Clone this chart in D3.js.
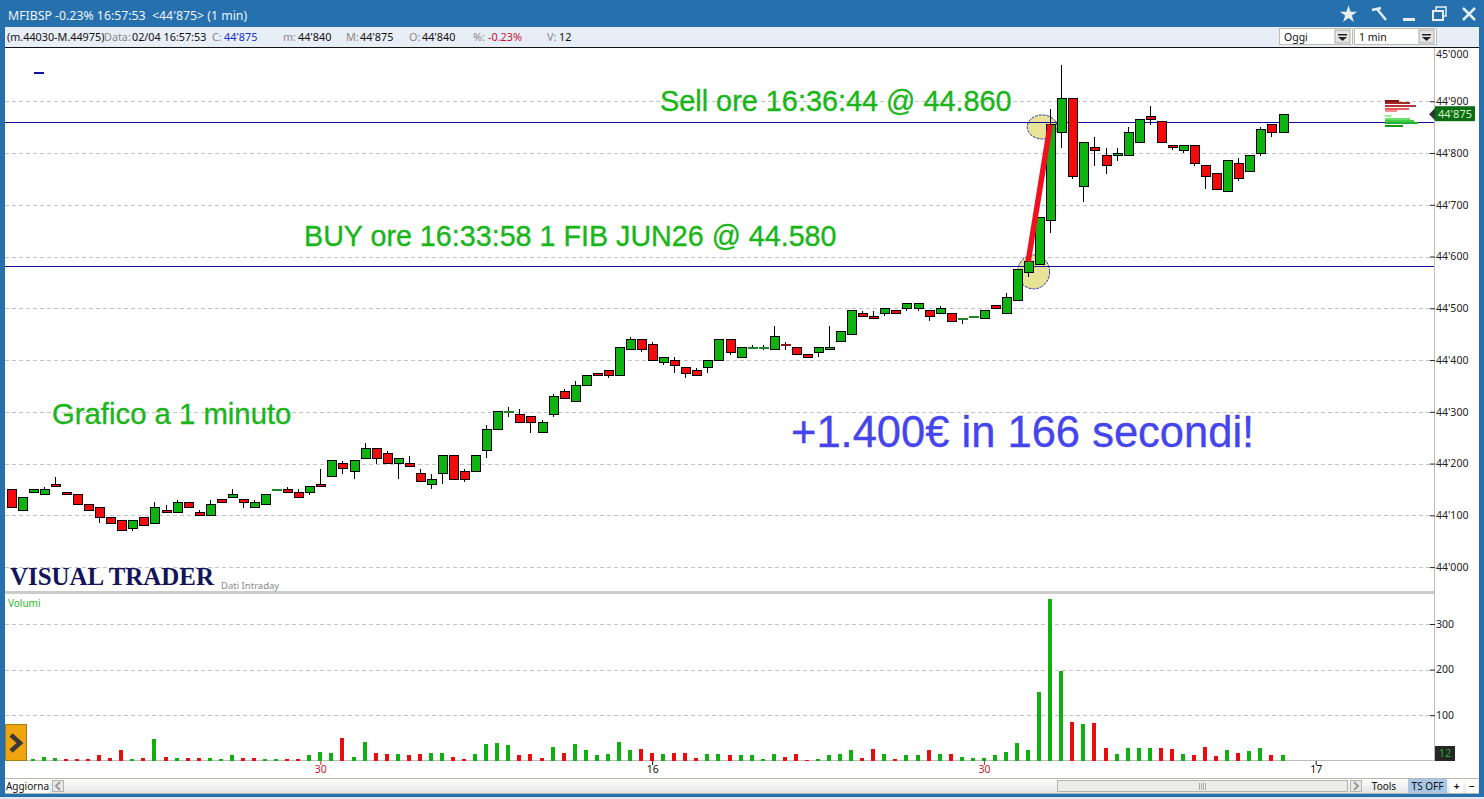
<!DOCTYPE html>
<html>
<head>
    <meta charset="utf-8">
    <title>MFIBSP 1 min</title>
    <script src="https://d3js.org/d3.v7.min.js"></script>
    <style>
        html, body { margin: 0; padding: 0; background: #fff; overflow: hidden; }
        svg { display: block; }
        text { font-family: "Noto Sans", sans-serif; }
        .note { font-family: "Liberation Sans", sans-serif; stroke-width: .35; }
        .axis path { display: none; }
        .axis text { font-family: "Noto Sans", sans-serif; font-size: 10.5px; fill: #222; }
        .grid path { display: none; }
        .grid text { display: none; }
        .grid line { stroke: #c4c4c4; stroke-dasharray: 4,3; }
    </style>
</head>
<body>
<script>

    // candles, one value per minute bar
    var opens = [44150,44110,44145,44140,44160,44145,44140,44120,44115,44095,
        44090,44075,44095,44085,44110,44105,44125,44105,44100,44130,
        44135,44130,44115,44120,44150,44150,44145,44145,44160,44175,
        44200,44185,44210,44230,44220,44200,44200,44180,44160,44180,
        44215,44185,44185,44225,44265,44300,44295,44290,44260,44295,
        44340,44320,44350,44375,44380,44370,44420,44440,44430,44395,
        44400,44385,44380,44385,44400,44440,44405,44425,44425,44420,
        44431,44425,44410,44415,44420,44435,44450,44490,44485,44490,
        44495,44500,44500,44495,44490,44490,44480,44485,44480,44505,
        44490,44515,44570,44585,44670,44840,44905,44735,44810,44795,
        44795,44795,44820,44870,44860,44815,44805,44815,44775,44760,
        44725,44780,44765,44800,44855,44840];
    var highs = [44150,44135,44150,44155,44175,44145,44140,44120,44115,44095,
        44090,44090,44095,44125,44120,44130,44125,44110,44130,44130,
        44150,44130,44130,44140,44150,44155,44150,44155,44190,44205,
        44205,44205,44240,44230,44225,44210,44215,44190,44180,44215,
        44215,44190,44215,44275,44300,44310,44305,44290,44285,44335,
        44345,44360,44370,44375,44380,44425,44445,44440,44435,44405,
        44405,44385,44385,44400,44440,44440,44425,44430,44430,44465,
        44435,44425,44410,44425,44465,44455,44495,44495,44495,44500,
        44495,44510,44510,44495,44505,44490,44480,44485,44495,44505,
        44530,44575,44590,44675,44885,44970,44905,44820,44830,44810,
        44810,44850,44865,44890,44860,44815,44815,44815,44775,44760,
        44785,44790,44795,44850,44855,44875];
    var lows = [44115,44110,44145,44140,44155,44140,44120,44110,44085,44085,
        44070,44070,44080,44085,44105,44105,44115,44100,44100,44125,
        44135,44115,44115,44120,44150,44145,44135,44140,44155,44175,
        44180,44170,44210,44200,44200,44170,44195,44165,44150,44160,
        44170,44165,44185,44210,44265,44290,44280,44260,44260,44290,
        44325,44320,44350,44370,44365,44370,44420,44415,44400,44390,
        44375,44365,44370,44375,44400,44410,44405,44425,44420,44420,
        44420,44410,44405,44405,44420,44435,44450,44485,44480,44485,
        44490,44495,44495,44475,44490,44475,44470,44485,44480,44500,
        44490,44515,44560,44585,44645,44810,44750,44705,44775,44760,
        44785,44795,44820,44855,44820,44805,44800,44775,44730,44730,
        44725,44745,44765,44795,44830,44840];
    var closes = [44115,44135,44150,44150,44155,44140,44120,44110,44095,44085,
        44070,44090,44080,44115,44105,44125,44115,44100,44120,44125,
        44140,44125,44125,44140,44150,44145,44135,44155,44155,44205,
        44190,44205,44230,44210,44200,44210,44195,44165,44170,44215,
        44170,44170,44215,44265,44300,44300,44280,44280,44280,44330,
        44325,44350,44370,44370,44370,44425,44440,44420,44400,44405,
        44390,44375,44370,44400,44440,44415,44425,44425,44425,44445,
        44429,44410,44405,44425,44425,44455,44495,44485,44480,44500,
        44490,44510,44510,44485,44500,44475,44480,44485,44495,44500,
        44520,44575,44590,44675,44855,44905,44755,44820,44805,44775,
        44800,44840,44865,44865,44820,44810,44815,44780,44755,44730,
        44785,44750,44795,44845,44840,44875];

    var volumes = [8,6,3,9,7,3,3,5,12,7,
        23,5,7,47,9,7,7,7,7,5,
        12,7,7,3,5,5,3,12,20,18,
        49,9,42,18,14,14,12,16,18,18,
        9,5,14,36,40,34,12,14,7,31,
        18,36,23,12,14,42,23,25,18,16,
        18,18,7,14,16,12,12,12,3,14,
        9,14,2,5,12,14,23,7,25,14,
        5,12,12,23,16,14,9,7,7,12,
        20,39,24,151,355,197,85,81,83,28,
        15,28,28,28,28,26,15,13,30,11,
        24,17,22,28,13,12];
    // u = green bar, d = red bar
    var volumeSides = [
        "u","u","u","u","u","d","d","d","d","d",
        "d","u","d","u","d","u","d","d","u","u",
        "u","d","d","u","u","d","d","u","u","u",
        "d","u","u","d","d","u","d","d","u","u",
        "d","d","u","u","u","u","d","d","d","u",
        "d","u","u","u","u","u","u","d","d","u",
        "d","d","d","u","u","d","u","u","u","u",
        "d","d","d","u","u","u","u","d","d","u",
        "d","u","u","d","u","d","u","u","u","u",
        "u","u","u","u","u","u","d","u","d","d",
        "u","u","u","u","d","d","u","d","d","d",
        "u","d","u","u","d","u"];

    var priceTicks = [44000,44100,44200,44300,44400,44500,44600,44700,44800,44900,45000];
    var volumeTicks = [100,200,300];
    var timeTicks = [28,58,88,118];
    var timeLabels = ["30","16","30","17"];
    var buyPrice = 44580, sellPrice = 44860, lastPrice = 44875;
    var buyBar = 92, sellBar = 94;

    // order book next to the last price
    var askPrices = [44900,44897,44891,44885,44881];
    var askSizes = [14,25,31,24,12];
    var askColors = ["#8e0f0f", "#a52a2a", "#b03a3a", "#ee5a5a", "#f59090"];
    var bidPrices = [44871,44866,44862,44858,44852];
    var bidSizes = [6,25,29,33,18];
    var bidColors = ["#8ff08f", "#66e066", "#44cc44", "#22b03a", "#0f9a0f"];

    var width = 1484, height = 799;
    var chartLeft = 5, axisX = 1434;
    var blue = "#2670ad";
    var green = "#0fb30f", red = "#f40a0a";

    var svg = d3.select("body").append("svg")
        .attr("width", width)
        .attr("height", height);

    var defs = svg.append("defs");
    var grad = defs.append("linearGradient").attr("id", "bar").attr("x1", 0).attr("x2", 0).attr("y1", 0).attr("y2", 1);
    grad.append("stop").attr("offset", 0).attr("stop-color", "#ffffff");
    grad.append("stop").attr("offset", 1).attr("stop-color", "#e4e4e4");

    var x = d3.scaleLinear().domain([0, 115]).range([10.7, 1282.5]);
    var y = d3.scaleLinear().domain([44000, 45000]).range([567.1, 49.5]);
    var yVol = d3.scaleLinear().domain([0, 300]).range([760.8, 624]);

    // window frame
    svg.append("rect").attr("width", width).attr("height", height).attr("fill", blue);
    svg.append("rect").attr("x", chartLeft).attr("y", 27).attr("width", 1474).attr("height", 767).attr("fill", "#fff");
    svg.append("rect").attr("x", 0).attr("y", 797).attr("width", width).attr("height", 2).attr("fill", "#dfe8f0");

    svg.append("text").attr("x", 8).attr("y", 19.5).attr("fill", "#eef4fa").attr("font-size", 12.3)
        .style("white-space", "pre")
        .text("MFIBSP -0.23% 16:57:53  <44'875> (1 min)");

    // top right window buttons
    var icons = svg.append("g").attr("fill", "#e6eef6").attr("stroke", "#e6eef6");
    icons.append("path").attr("stroke", "none")
        .attr("d", d3.symbol().type(d3.symbolStar).size(95)()).attr("transform", "translate(1348.5,14.5)");
    icons.append("path").attr("fill", "none").attr("stroke-width", 2.5).attr("d", "M1372,10 L1381,8 M1377,9 L1386,20");
    icons.append("rect").attr("x", 1403).attr("y", 18).attr("width", 12).attr("height", 3).attr("stroke", "none");
    icons.append("rect").attr("x", 1433).attr("y", 11).attr("width", 10).attr("height", 9).attr("fill", "none").attr("stroke-width", 2);
    icons.append("path").attr("fill", "none").attr("stroke-width", 1.5).attr("d", "M1436,10 V7 H1446 V16 H1443");
    icons.append("path").attr("fill", "none").attr("stroke-width", 2.5).attr("d", "M1463,8 L1475,20 M1475,8 L1463,20");

    // quote strip
    svg.append("rect").attr("x", chartLeft).attr("y", 27).attr("width", 1474).attr("height", 20).attr("fill", "#e8eef5");
    svg.append("line").attr("x1", chartLeft).attr("x2", 1479).attr("y1", 47.5).attr("y2", 47.5).attr("stroke", "#111");

    var quoteLabels = ["(m.44030-M.44975)","Data:","02/04 16:57:53","C:","44'875","m:","44'840","M:","44'875","O:","44'840","%:","-0.23%","V:","12"];
    var quoteX = [7,104,132,212,224,283,298,346,360,409,422,473,488,547,559];
    var quoteColors = ["#111","#888","#111","#888","#1a2fd0","#888","#111","#888","#111","#888","#111","#888","#c8102e","#888","#111"];
    svg.append("g").selectAll("text").data(quoteLabels).enter().append("text")
        .attr("x", function (d, i) { return quoteX[i]; })
        .attr("y", 41)
        .attr("font-size", 10.8)
        .attr("fill", function (d, i) { return quoteColors[i]; })
        .text(function (d) { return d; });

    function dropdown(x0, w, label) {
        var g = svg.append("g");
        g.append("rect").attr("x", x0 + .5).attr("y", 28.5).attr("width", w).attr("height", 16).attr("fill", "#fff").attr("stroke", "#bdbdb2");
        g.append("text").attr("x", x0 + 5).attr("y", 41).attr("font-size", 10.5).attr("fill", "#111").text(label);
        g.append("rect").attr("x", x0 + w - 17).attr("y", 30).attr("width", 15).attr("height", 13).attr("fill", "#e4e4e0").attr("stroke", "#aaa");
        g.append("path").attr("fill", "#222")
            .attr("d", "M" + (x0 + w - 14) + ",34 h9 v1.5 h-9 z M" + (x0 + w - 14) + ",37 h9 l-4.5,4 z");
    }
    dropdown(1279, 73, "Oggi");
    dropdown(1354, 82, "1 min");

    // grid and axes
    svg.append("g").attr("class", "grid")
        .attr("transform", "translate(1430,0)")
        .call(d3.axisRight(y).tickValues(priceTicks.slice(0, 10)).tickSize(-(1430 - chartLeft)))
        .attr("shape-rendering", "crispEdges");
    svg.append("g").attr("class", "grid")
        .attr("transform", "translate(1430,0)")
        .call(d3.axisRight(yVol).tickValues(volumeTicks).tickSize(-(1430 - chartLeft)))
        .attr("shape-rendering", "crispEdges");

    svg.append("line").attr("x1", axisX + .5).attr("x2", axisX + .5).attr("y1", 48).attr("y2", 761).attr("stroke", "#bdbdbd");
    svg.append("line").attr("x1", chartLeft).attr("x2", axisX).attr("y1", 760.5).attr("y2", 760.5).attr("stroke", "#bdbdbd");
    svg.append("rect").attr("x", chartLeft).attr("y", 591).attr("width", axisX - chartLeft).attr("height", 3).attr("fill", "#cbcbcb");

    function priceFormat(d) {
        var s = String(d);
        return s.slice(0, 2) + "'" + s.slice(2);
    }
    var priceAxis = d3.axisRight(y).tickValues(priceTicks).tickSizeInner(-5).tickSizeOuter(0).tickPadding(1).tickFormat(priceFormat);
    var priceG = svg.append("g").attr("class", "axis").attr("transform", "translate(1435,0)").call(priceAxis);
    priceG.selectAll("line").attr("stroke", "#222");
    // top label is pushed down so it stays inside the panel, without a tick
    priceG.selectAll(".tick").filter(function (d) { return d === 45000; }).each(function () {
        d3.select(this).select("line").remove();
        d3.select(this).select("text").attr("y", 4.5);
    });
    var volAxis = d3.axisRight(yVol).tickValues(volumeTicks).tickSizeInner(-5).tickSizeOuter(0).tickPadding(1).tickFormat(d3.format("d"));
    svg.append("g").attr("class", "axis").attr("transform", "translate(1435,0)").call(volAxis)
        .selectAll("line").attr("stroke", "#222");

    var timeAxis = d3.axisBottom(x).tickValues(timeTicks).tickSizeInner(4).tickSizeOuter(0).tickPadding(1)
        .tickFormat(function (d, i) { return timeLabels[i]; });
    var timeG = svg.append("g").attr("class", "axis").attr("transform", "translate(0,761)").call(timeAxis);
    timeG.selectAll("line").attr("stroke", function (d, i) { return timeLabels[i] === "30" ? "#c8202a" : "#111"; });
    timeG.selectAll("text").style("fill", function (d, i) { return timeLabels[i] === "30" ? "#c8202a" : "#111"; });

    // entry and exit markers sit behind the candles
    svg.append("ellipse").attr("cx", x(sellBar) - 8).attr("cy", y(sellPrice) + 5).attr("rx", 15).attr("ry", 12)
        .attr("fill", "#e8e396").attr("stroke", "#2a3a9a").attr("stroke-dasharray", "3,1");
    svg.append("ellipse").attr("cx", x(buyBar) + 5.5).attr("cy", y(buyPrice) + 5).attr("rx", 16).attr("ry", 17)
        .attr("fill", "#e8e396").attr("stroke", "#2a3a9a").attr("stroke-dasharray", "3,1");

    [sellPrice, buyPrice].forEach(function (p) {
        var ly = Math.floor(y(p) + .05) + .5;
        svg.append("line").attr("x1", chartLeft).attr("x2", axisX)
            .attr("y1", ly).attr("y2", ly)
            .attr("stroke", "#10109c");
    });

    // candles
    var idx = d3.range(opens.length);
    function bodyHeight(i) { return Math.abs(y(opens[i]) - y(closes[i])); }
    var candles = svg.append("g").attr("shape-rendering", "crispEdges");
    candles.selectAll("line.wick").data(idx).enter().append("line")
        .attr("class", "wick")
        .attr("x1", function (i) { return Math.round(x(i)) + .5; })
        .attr("x2", function (i) { return Math.round(x(i)) + .5; })
        .attr("y1", function (i) { return y(highs[i]); })
        .attr("y2", function (i) { return y(lows[i]); })
        .attr("stroke", "#000");
    candles.selectAll("rect.body").data(idx).enter().append("rect")
        .attr("class", "body")
        .attr("x", function (i) { return Math.round(x(i)) - 4; })
        .attr("width", 9)
        .attr("y", function (i) { return y(Math.max(opens[i], closes[i])); })
        .attr("height", function (i) { return Math.max(bodyHeight(i), 1); })
        .attr("fill", function (i) { return closes[i] >= opens[i] ? green : red; })
        .attr("stroke", function (i) {
            // flat bars come out as a thin dark coloured dash
            if (bodyHeight(i) < 2) return closes[i] >= opens[i] ? "#23802b" : "#8a1a1a";
            return "#000";
        });

    // the trade
    svg.append("line")
        .attr("x1", x(buyBar)).attr("y1", y(buyPrice + 10))
        .attr("x2", x(sellBar)).attr("y2", y(sellPrice - 5))
        .attr("stroke", "#f01020").attr("stroke-width", 5.5);

    // volumes
    svg.append("g").attr("shape-rendering", "crispEdges").selectAll("rect").data(idx).enter().append("rect")
        .attr("x", function (i) { return Math.round(x(i)) - 2; })
        .attr("width", 4)
        .attr("y", function (i) { return yVol(volumes[i]); })
        .attr("height", function (i) { return yVol(0) - yVol(volumes[i]); })
        .attr("fill", function (i) { return volumeSides[i] === "u" ? "#10b010" : "#e80c0c"; });

    // book depth
    var depth = d3.scaleLinear().domain([0, 33]).range([1385, 1418]);
    svg.append("g").attr("shape-rendering", "crispEdges").selectAll("rect").data(askSizes).enter().append("rect")
        .attr("x", depth(0)).attr("height", 2)
        .attr("y", function (d, i) { return y(askPrices[i]) - 1; })
        .attr("width", function (d) { return depth(d) - depth(0); })
        .attr("fill", function (d, i) { return askColors[i]; });
    svg.append("g").attr("shape-rendering", "crispEdges").selectAll("rect").data(bidSizes).enter().append("rect")
        .attr("x", depth(0)).attr("height", 2)
        .attr("y", function (d, i) { return y(bidPrices[i]) - 1; })
        .attr("width", function (d) { return depth(d) - depth(0); })
        .attr("fill", function (d, i) { return bidColors[i]; });

    // last price tag
    svg.append("rect").attr("x", 1435).attr("y", y(lastPrice) - 8).attr("width", 40).attr("height", 15).attr("fill", "#0b6e12");
    svg.append("path").attr("fill", "#333")
        .attr("d", "M1435," + (y(lastPrice) - 6) + " l-6,6 l6,6 z");
    svg.append("text").attr("x", 1455).attr("y", y(lastPrice) + 3.5).attr("text-anchor", "middle")
        .attr("font-size", 11).attr("fill", "#d4f2c8").text(priceFormat(lastPrice));

    // last volume tag
    svg.append("rect").attr("x", 1435).attr("y", 746).attr("width", 20).attr("height", 15).attr("fill", "#262626");
    svg.append("text").attr("x", 1445).attr("y", 757).attr("text-anchor", "middle")
        .attr("font-size", 11).attr("fill", "#22b022").text(volumes[volumes.length - 1]);

    // notes on the chart
    svg.append("text").attr("class", "note").attr("x", 660).attr("y", 111).attr("font-size", 28.85)
        .attr("fill", "#19b519").attr("stroke", "#19b519").text("Sell ore 16:36:44 @ 44.860");
    svg.append("text").attr("class", "note").attr("x", 304).attr("y", 246).attr("font-size", 28.7)
        .attr("fill", "#19b519").attr("stroke", "#19b519").text("BUY ore 16:33:58 1 FIB JUN26 @ 44.580");
    svg.append("text").attr("class", "note").attr("x", 52).attr("y", 424).attr("font-size", 29.3)
        .attr("fill", "#19b519").attr("stroke", "#19b519").text("Grafico a 1 minuto");
    svg.append("text").attr("class", "note").attr("x", 791).attr("y", 447).attr("font-size", 43.5)
        .attr("fill", "#4545ee").attr("stroke", "#4545ee").text("+1.400€ in 166 secondi!");

    svg.append("rect").attr("x", 34).attr("y", 72).attr("width", 10).attr("height", 2).attr("fill", "#10109c");
    svg.append("text").attr("x", 10).attr("y", 585).attr("font-size", 26).attr("font-weight", "bold")
        .style("font-family", "'Liberation Serif', serif").attr("fill", "#14145a")
        .attr("textLength", 204).attr("lengthAdjust", "spacingAndGlyphs").text("VISUAL TRADER");
    svg.append("text").attr("x", 221).attr("y", 589).attr("font-size", 9.5).attr("fill", "#888").text("Dati Intraday");
    svg.append("text").attr("x", 8).attr("y", 607).attr("font-size", 10).attr("fill", "#28b828").text("Volumi");

    // orange scroll button
    svg.append("rect").attr("x", 5.5).attr("y", 724.5).attr("width", 21).attr("height", 36).attr("fill", "#eea50f").attr("stroke", "#a67c14");
    svg.append("path").attr("fill", "none").attr("stroke", "#3a3a3a").attr("stroke-width", 4.5)
        .attr("d", "M11,735 L20,743 L11,751");

    // bottom bar
    svg.append("rect").attr("x", chartLeft).attr("y", 778).attr("width", 1474).attr("height", 16).attr("fill", "url(#bar)");
    svg.append("line").attr("x1", chartLeft).attr("x2", 1479).attr("y1", 778.5).attr("y2", 778.5).attr("stroke", "#b8b8b0");
    svg.append("line").attr("x1", chartLeft).attr("x2", 1479).attr("y1", 793.5).attr("y2", 793.5).attr("stroke", "#b8b8b0");

    function barButton(x0, w, label, fill, weight) {
        var g = svg.append("g");
        g.append("rect").attr("x", x0).attr("y", 779).attr("width", w).attr("height", 14).attr("fill", fill);
        g.append("text").attr("x", x0 + w / 2).attr("y", 790).attr("text-anchor", "middle")
            .attr("font-size", 10).attr("font-weight", weight || "normal").attr("fill", "#111").text(label);
    }
    barButton(6, 43, "Aggiorna", "#fff");
    barButton(1364, 40, "Tools", "url(#bar)");
    barButton(1408, 39, "TS OFF", "#a9c6e6");
    barButton(1450, 13, "+", "#fff", "bold");
    barButton(1466, 12, "−", "#fff", "bold");

    [52, 1350].forEach(function (bx, n) {
        svg.append("rect").attr("x", bx + .5).attr("y", 780.5).attr("width", 11).attr("height", 11).attr("fill", "#e8e8e8").attr("stroke", "#b4b4ac");
        svg.append("path").attr("fill", "none").attr("stroke", "#9a9a9a").attr("stroke-width", 2)
            .attr("d", n === 0 ? "M60,782 l-4,4 l4,4" : "M1354,782 l4,4 l-4,4");
    });
    svg.append("rect").attr("x", 1057.5).attr("y", 780.5).attr("width", 290).attr("height", 11).attr("fill", "#ececec").attr("stroke", "#b4b4ac");
    svg.append("path").attr("stroke", "#aaa").attr("d", "M1199.5,783 v7 M1201.5,783 v7 M1203.5,783 v7 M1205.5,783 v7");

</script>
</body>
</html>
